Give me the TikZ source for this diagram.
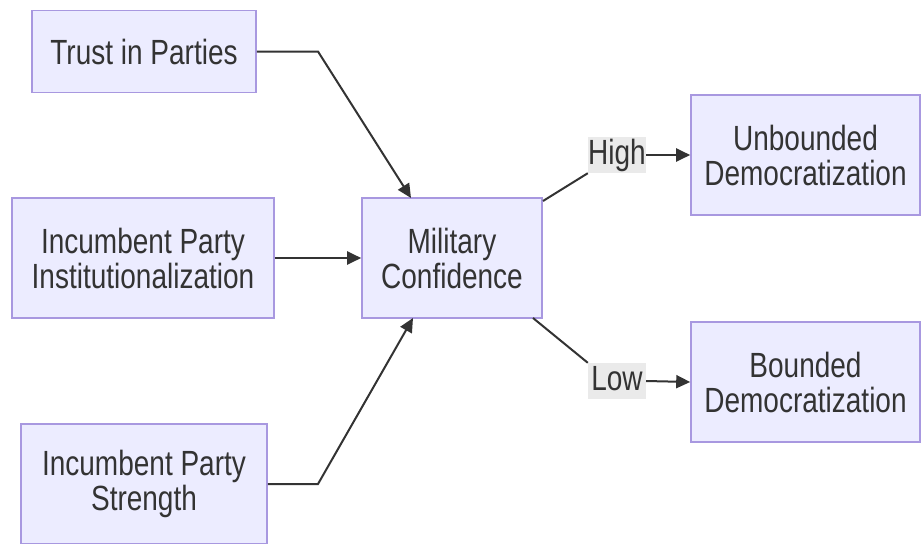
\documentclass[tikz,border=0pt]{standalone}
\usepackage{fontspec}
\setmainfont{Liberation Sans}[FakeStretch=0.8]
\usetikzlibrary{arrows.meta}
\definecolor{boxfill}{HTML}{ECECFF}
\definecolor{boxline}{HTML}{A898E0}
\definecolor{ink}{HTML}{333333}
\definecolor{lblfill}{HTML}{EAEAEA}
\tikzset{
  box/.style={draw=boxline, fill=boxfill, line width=1.6pt, align=center,
    text=ink, inner sep=0pt, font=\fontsize{35}{35}\selectfont},
  edgelbl/.style={fill=lblfill, text=ink, inner sep=0pt, minimum width=58pt,
    minimum height=36pt, text height=25pt, text depth=7pt, font=\fontsize{35}{35}\selectfont},
  conn/.style={draw=ink, line width=2pt},
  arr/.style={conn, -{Triangle[length=14pt,width=13pt]}}
}
\begin{document}
\begin{tikzpicture}[x=1pt,y=-1pt]
\useasboundingbox (0,0) rectangle (922,544);
\node[box, minimum width=224pt, minimum height=82pt] (trust) at (144,51.5) {Trust in Parties};
\node[box, minimum width=262pt, minimum height=120pt] (inst) at (143,258) {Incumbent Party\\Institutionalization};
\node[box, minimum width=246pt, minimum height=120pt] (str) at (144,484) {Incumbent Party\\Strength};
\node[box, minimum width=180pt, minimum height=120pt] (mil) at (452,258) {Military\\Confidence};
\node[box, minimum width=229pt, minimum height=120pt] (unb) at (805.5,155) {Unbounded\\Democratization};
\node[box, minimum width=229pt, minimum height=120pt] (bnd) at (805.5,382) {Bounded\\Democratization};
\node[edgelbl] (high) at (617,155) {High};
\node[edgelbl] (low) at (617,381) {Low};
\coordinate (tbend) at (318,51.5);
\coordinate (sbend) at (318,484);
\coordinate (mtop) at (411,198);
\coordinate (mbot) at (413,318);
\coordinate (mne) at (543,201);
\coordinate (mse) at (533,318);
\draw[arr] (trust.east) -- (tbend) -- (mtop);
\draw[arr] (inst.east) -- (mil.west);
\draw[arr] (str.east) -- (sbend) -- (mbot);
\draw[conn] (mne) -- (high.south west);
\draw[arr] (high.east) -- (unb.west);
\draw[conn] (mse) -- (low.north west);
\draw[arr] (low.east) -- (bnd.west);
\end{tikzpicture}
\end{document}
